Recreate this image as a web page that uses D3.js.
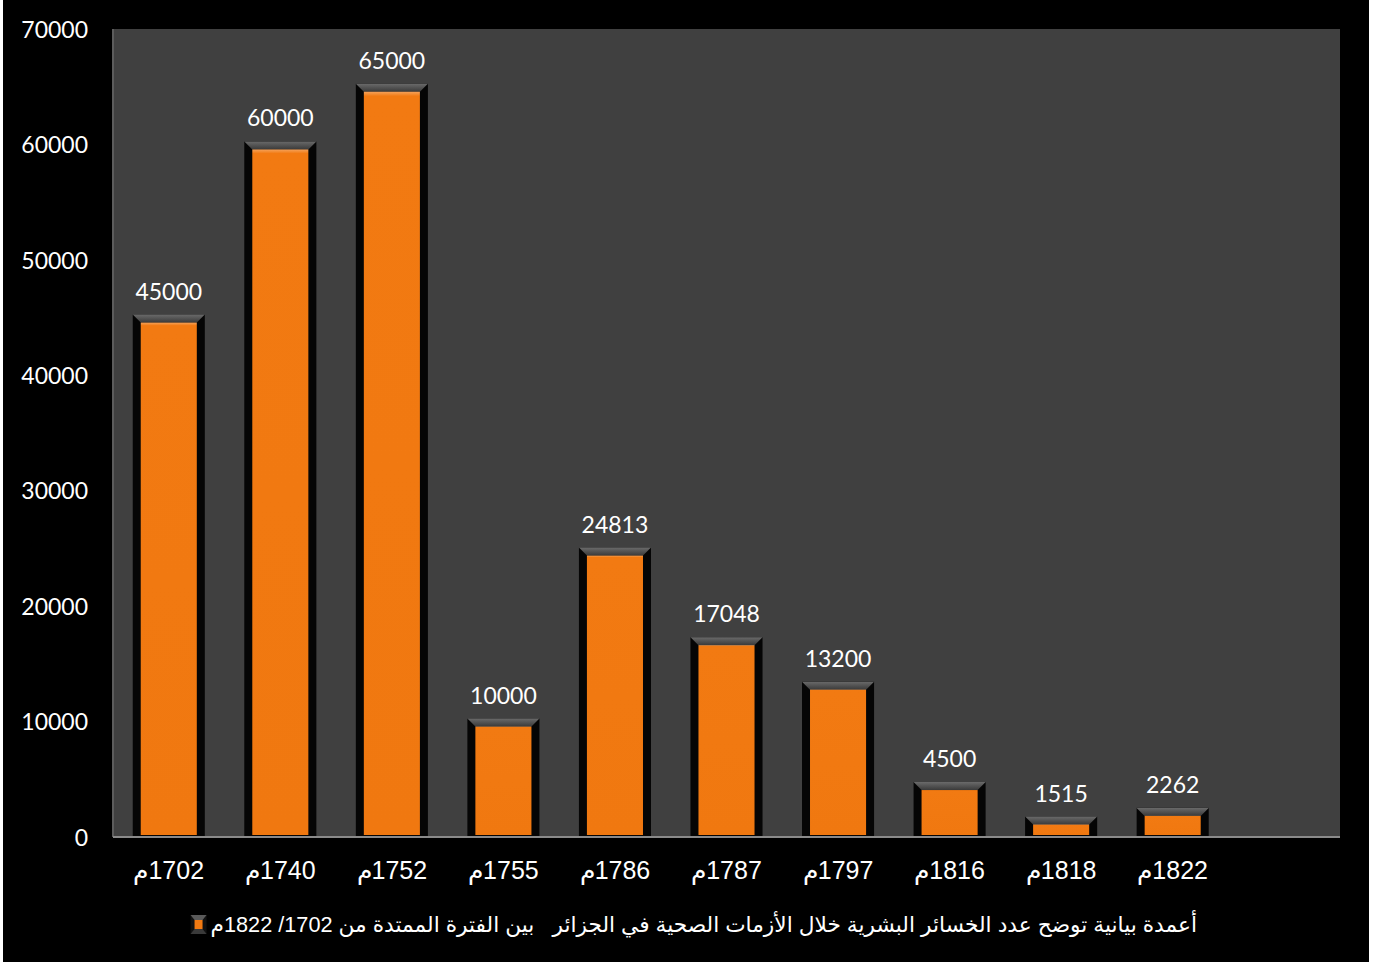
<!DOCTYPE html>
<html>
<head>
<meta charset="utf-8">
<script src="https://cdn.jsdelivr.net/npm/d3@7"></script>
<style>
  html, body { margin: 0; padding: 0; background: #ffffff; }
  svg { display: block; }
</style>
</head>
<body>
<svg id="chart" width="1375" height="964"></svg>
<script>
// Years of the health crises ("م" marks the Gregorian calendar)
const years = ["1702م", "1740م", "1752م", "1755م", "1786م", "1787م", "1797م", "1816م", "1818م", "1822م"];
// Human losses for each crisis
const losses = [45000, 60000, 65000, 10000, 24813, 17048, 13200, 4500, 1515, 2262];
// Y axis ticks
const yTicks = [0, 10000, 20000, 30000, 40000, 50000, 60000, 70000];
const legendLabel = "أعمدة بيانية توضح عدد الخسائر البشرية خلال الأزمات الصحية في الجزائر   بين الفترة الممتدة من 1702/ 1822م";

const svg = d3.select("#chart");
const plot = { left: 113, right: 1340, top: 29, bottom: 837 };

// page background
svg.append("rect").attr("x", 3).attr("y", 0).attr("width", 1366).attr("height", 962).attr("fill", "#000000");

// plot area
svg.append("rect")
  .attr("x", plot.left).attr("y", plot.top)
  .attr("width", plot.right - plot.left).attr("height", plot.bottom - plot.top)
  .attr("fill", "#404040");

const y = d3.scaleLinear().domain([0, 70000]).range([plot.bottom, plot.top]);
// one spare slot at the end of the category axis
const x = d3.scaleBand().domain([...years, ""]).range([plot.left, plot.right]).paddingInner(0.354).paddingOuter(0.177);

// gradients
const defs = svg.append("defs");
const bevelTop = defs.append("linearGradient").attr("id", "bevelTop").attr("x1", 0).attr("y1", 0).attr("x2", 0).attr("y2", 1);
bevelTop.append("stop").attr("offset", "0%").attr("stop-color", "#6a6a6a");
bevelTop.append("stop").attr("offset", "100%").attr("stop-color", "#3a3a3a");
const orangeFill = defs.append("linearGradient").attr("id", "orangeFill").attr("x1", 0).attr("y1", 0).attr("x2", 0).attr("y2", 1);
orangeFill.append("stop").attr("offset", "0%").attr("stop-color", "#f5a25a");
orangeFill.append("stop").attr("offset", "0.6%").attr("stop-color", "#f27a12");
orangeFill.append("stop").attr("offset", "100%").attr("stop-color", "#f07810");

// left axis line
svg.append("line")
  .attr("x1", plot.left).attr("x2", plot.left)
  .attr("y1", plot.top).attr("y2", plot.bottom)
  .attr("stroke", "#5c5c5c").attr("stroke-width", 2);

// y axis labels
const yAxis = d3.axisLeft(y).tickValues(yTicks).tickSize(0).tickPadding(25).tickFormat(d3.format("d"));
const gy = svg.append("g").attr("transform", `translate(${plot.left},0)`).call(yAxis);
gy.select(".domain").remove();
gy.selectAll("text")
  .attr("fill", "#ffffff")
  .attr("font-family", "Lato, 'Open Sans', sans-serif")
  .attr("font-size", 23)
  .attr("dy", "0.36em");

// bars
const bevel = 8;
const bars = svg.append("g").selectAll("g").data(losses).join("g")
  .attr("transform", (d, i) => `translate(${x(years[i])},0)`);
const bw = x.bandwidth();

bars.append("rect")
  .attr("x", 0).attr("width", bw)
  .attr("y", d => y(d) - 3)
  .attr("height", d => plot.bottom - y(d) + 3)
  .attr("fill", "#050505");
bars.append("path")
  .attr("d", d => {
    const t = y(d) - 3;
    return `M0,${t}H${bw}L${bw - bevel},${t + bevel}H${bevel}Z`;
  })
  .attr("fill", "url(#bevelTop)");
bars.append("rect")
  .attr("x", bevel).attr("width", bw - 2 * bevel)
  .attr("y", d => y(d) - 3 + bevel)
  .attr("height", d => Math.max(0, plot.bottom - 2 - (y(d) - 3 + bevel)))
  .attr("fill", "url(#orangeFill)");

// value labels
bars.append("text")
  .attr("x", bw / 2)
  .attr("y", d => y(d) - 18)
  .attr("text-anchor", "middle")
  .attr("fill", "#ffffff")
  .attr("font-family", "Lato, 'Open Sans', sans-serif")
  .attr("font-size", 23)
  .text(d => d);

// x axis baseline
svg.append("line")
  .attr("x1", plot.left).attr("x2", plot.right)
  .attr("y1", plot.bottom).attr("y2", plot.bottom)
  .attr("stroke", "#8a8a8a").attr("stroke-width", 2);

// x axis labels
const xAxis = d3.axisBottom(x).tickValues(years).tickSize(0).tickPadding(0);
const gx = svg.append("g").attr("transform", `translate(0,${plot.bottom})`).call(xAxis);
gx.select(".domain").remove();
gx.selectAll("text")
  .attr("y", 42)
  .attr("dy", 0)
  .attr("direction", "rtl")
  .attr("fill", "#ffffff")
  .attr("font-family", "'Liberation Sans', Arial, sans-serif")
  .attr("font-size", 25);

// legend
const legend = svg.append("g");
const lt = legend.append("text")
  .attr("x", 1197).attr("y", 932)
  .attr("direction", "rtl")
  .attr("text-anchor", "start")
  .attr("fill", "#ffffff")
  .attr("font-family", "'Liberation Sans', 'DejaVu Sans', Arial, sans-serif")
  .attr("font-size", 21.7)
  .style("white-space", "pre")
  .text(legendLabel);
const tw = lt.node().getComputedTextLength();
const kx = 1197 - tw - 20, ky = 915, kw = 16, kh = 19;
legend.append("rect").attr("x", kx).attr("y", ky).attr("width", kw).attr("height", kh).attr("fill", "#111");
legend.append("path").attr("d", `M${kx},${ky}H${kx + kw}L${kx + kw - 4},${ky + 5}H${kx + 4}Z`).attr("fill", "#5a5a5a");
legend.append("path").attr("d", `M${kx},${ky + kh}H${kx + kw}L${kx + kw - 4},${ky + kh - 5}H${kx + 4}Z`).attr("fill", "#3a3a3a");
legend.append("rect").attr("x", kx + 4).attr("y", ky + 5).attr("width", kw - 8).attr("height", kh - 10).attr("fill", "#f27a12");
</script>
</body>
</html>
